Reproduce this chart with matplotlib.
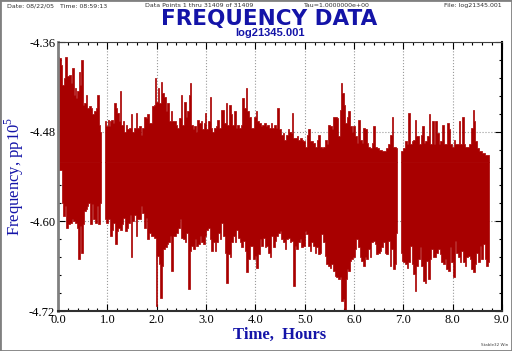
import numpy as np
import matplotlib
matplotlib.use("Agg")
import matplotlib.pyplot as plt
from matplotlib.patches import Rectangle

plt.rcParams['mathtext.fontset'] = 'custom'
plt.rcParams['mathtext.rm'] = 'Liberation Serif'

# ---- data (hours, pp10^5) ----
# upper edge of the trace; nan marks the two gaps in the record
top_t = [0.000, 0.034, 0.068, 0.101, 0.135, 0.156, 0.189, 0.237, 0.270, 0.304,
         0.325, 0.352, 0.372, 0.406, 0.426, 0.453, 0.487, 0.507, 0.541, 0.575,
         0.609, 0.642, 0.676, 0.710, 0.744, 0.778, 0.811, 0.832, 0.852, 0.865,
         0.910,
         0.960, 1.001, 1.028, 1.048, 1.068, 1.095, 1.116, 1.149, 1.183, 1.217,
         1.237, 1.271, 1.298, 1.325, 1.352, 1.386, 1.420, 1.454, 1.488, 1.521,
         1.555, 1.589, 1.623, 1.657, 1.690, 1.724, 1.758, 1.792, 1.826, 1.859,
         1.893, 1.927, 1.961, 1.981, 2.008, 2.028, 2.062, 2.096, 2.130, 2.164,
         2.197, 2.231, 2.265, 2.299, 2.333, 2.366, 2.400, 2.434, 2.468, 2.502,
         2.536, 2.569, 2.603, 2.637, 2.657, 2.691, 2.718, 2.738, 2.772, 2.806,
         2.840, 2.874, 2.907, 2.941, 2.975, 2.995, 3.022, 3.056, 3.090, 3.110,
         3.144, 3.178, 3.212, 3.245, 3.279, 3.313, 3.347, 3.381, 3.414, 3.448,
         3.482, 3.516, 3.550, 3.583, 3.617, 3.651, 3.685, 3.719, 3.753, 3.786,
         3.820, 3.854, 3.888, 3.922, 3.955, 3.989, 4.023, 4.057, 4.091, 4.124,
         4.158, 4.192, 4.226, 4.260, 4.293, 4.327, 4.361, 4.395, 4.429, 4.463,
         4.496, 4.537, 4.571, 4.604, 4.638, 4.672, 4.706, 4.740, 4.760, 4.787,
         4.821, 4.855, 4.888, 4.922, 4.956, 4.990, 5.024, 5.057, 5.091, 5.125,
         5.159, 5.193, 5.226, 5.260, 5.294, 5.328, 5.362, 5.396, 5.429, 5.463,
         5.497, 5.531, 5.565, 5.598, 5.632, 5.666, 5.700, 5.734, 5.754, 5.774,
         5.801, 5.835, 5.869, 5.903, 5.937, 5.970, 6.004, 6.038, 6.072, 6.105,
         6.139, 6.173, 6.207, 6.241, 6.274, 6.308, 6.342, 6.376, 6.410, 6.443,
         6.477, 6.531, 6.599, 6.680, 6.714, 6.748, 6.782, 6.815, 6.870,
         6.905,
         6.951, 7.018, 7.052, 7.086, 7.120, 7.154, 7.187, 7.221, 7.241, 7.275,
         7.309, 7.343, 7.376, 7.397, 7.431, 7.464, 7.498, 7.532, 7.566, 7.600,
         7.634, 7.667, 7.701, 7.735, 7.769, 7.803, 7.836, 7.870, 7.904, 7.938,
         7.972, 8.005, 8.039, 8.073, 8.107, 8.141, 8.174, 8.208, 8.242, 8.276,
         8.310, 8.357, 8.404, 8.425, 8.445, 8.479, 8.513, 8.560, 8.627, 8.695,
         8.729]
top_v = [-4.380, -4.382, -4.391, -4.417, -4.408, -4.380, -4.406, -4.404, -4.415, -4.395,
         -4.431, -4.422, -4.435, -4.426, -4.400, -4.417, -4.384, -4.444, -4.442, -4.431,
         -4.448, -4.446, -4.448, -4.457, -4.453, -4.448, -4.431, -4.471, -4.480, -4.480,
         np.nan,
         -4.466, -4.473, -4.464, -4.473, -4.466, -4.464, -4.468, -4.442, -4.448, -4.455,
         -4.466, -4.426, -4.471, -4.466, -4.480, -4.471, -4.477, -4.475, -4.457, -4.480,
         -4.475, -4.455, -4.475, -4.473, -4.484, -4.475, -4.460, -4.462, -4.457, -4.468,
         -4.468, -4.446, -4.444, -4.408, -4.440, -4.422, -4.442, -4.413, -4.428, -4.433,
         -4.453, -4.442, -4.466, -4.453, -4.466, -4.466, -4.471, -4.475, -4.462, -4.431,
         -4.471, -4.440, -4.460, -4.453, -4.431, -4.415, -4.471, -4.477, -4.473, -4.480,
         -4.464, -4.468, -4.466, -4.477, -4.468, -4.455, -4.477, -4.466, -4.433, -4.475,
         -4.480, -4.475, -4.473, -4.464, -4.475, -4.451, -4.451, -4.468, -4.442, -4.471,
         -4.444, -4.457, -4.471, -4.453, -4.475, -4.471, -4.475, -4.471, -4.435, -4.448,
         -4.422, -4.453, -4.460, -4.475, -4.475, -4.460, -4.453, -4.466, -4.468, -4.473,
         -4.471, -4.468, -4.473, -4.471, -4.475, -4.468, -4.475, -4.471, -4.475, -4.448,
         -4.477, -4.484, -4.482, -4.491, -4.484, -4.477, -4.480, -4.482, -4.455, -4.488,
         -4.488, -4.486, -4.491, -4.488, -4.491, -4.493, -4.500, -4.484, -4.477, -4.493,
         -4.493, -4.495, -4.500, -4.491, -4.484, -4.500, -4.502, -4.500, -4.491, -4.497,
         -4.471, -4.473, -4.477, -4.460, -4.460, -4.462, -4.486, -4.451, -4.415, -4.428,
         -4.444, -4.468, -4.460, -4.453, -4.473, -4.480, -4.473, -4.486, -4.495, -4.464,
         -4.491, -4.495, -4.475, -4.477, -4.495, -4.500, -4.502, -4.495, -4.473, -4.500,
         -4.502, -4.504, -4.506, -4.502, -4.497, -4.484, -4.460, -4.500, -4.502,
         np.nan,
         -4.506, -4.502, -4.493, -4.497, -4.455, -4.497, -4.493, -4.491, -4.464, -4.486,
         -4.486, -4.497, -4.484, -4.473, -4.495, -4.493, -4.486, -4.457, -4.497, -4.466,
         -4.497, -4.466, -4.482, -4.497, -4.493, -4.471, -4.497, -4.497, -4.468, -4.477,
         -4.497, -4.500, -4.491, -4.497, -4.497, -4.466, -4.497, -4.460, -4.497, -4.500,
         -4.500, -4.497, -4.475, -4.451, -4.466, -4.493, -4.502, -4.506, -4.508, -4.511,
         -4.511]

# lower edge of the trace
bot_t = [0.000, 0.080, 0.095, 0.122, 0.149, 0.189, 0.223, 0.257, 0.291, 0.325,
         0.358, 0.392, 0.426, 0.453, 0.487, 0.514, 0.541, 0.575, 0.595, 0.629,
         0.663, 0.696, 0.730, 0.764, 0.798, 0.832, 0.865,
         0.910,
         0.953, 0.987, 1.028, 1.068, 1.102, 1.136, 1.170, 1.204, 1.237, 1.271,
         1.305, 1.339, 1.373, 1.406, 1.440, 1.474, 1.494, 1.521, 1.555, 1.589,
         1.623, 1.657, 1.690, 1.724, 1.758, 1.792, 1.826, 1.859, 1.893, 1.927,
         1.961, 1.995, 2.028, 2.062, 2.089, 2.116, 2.150, 2.184, 2.218, 2.252,
         2.285, 2.312, 2.346, 2.380, 2.414, 2.448, 2.481, 2.515, 2.549, 2.583,
         2.617, 2.650, 2.684, 2.718, 2.752, 2.786, 2.819, 2.853, 2.887, 2.921,
         2.955, 2.989, 3.022, 3.056, 3.090, 3.124, 3.158, 3.191, 3.225, 3.259,
         3.293, 3.327, 3.360, 3.394, 3.428, 3.462, 3.496, 3.529, 3.563, 3.597,
         3.631, 3.665, 3.698, 3.732, 3.766, 3.800, 3.834, 3.868, 3.901, 3.935,
         3.969, 4.003, 4.037, 4.070, 4.104, 4.138, 4.172, 4.206, 4.239, 4.273,
         4.307, 4.341, 4.375, 4.408, 4.442, 4.476, 4.510, 4.544, 4.577, 4.611,
         4.645, 4.679, 4.713, 4.747, 4.780, 4.814, 4.848, 4.882, 4.916, 4.949,
         4.983, 5.017, 5.051, 5.085, 5.118, 5.152, 5.186, 5.220, 5.254, 5.287,
         5.321, 5.355, 5.389, 5.423, 5.456, 5.490, 5.524, 5.558, 5.592, 5.625,
         5.659, 5.693, 5.727, 5.761, 5.788, 5.815, 5.842, 5.869, 5.896, 5.930,
         5.963, 5.997, 6.031, 6.065, 6.099, 6.133, 6.166, 6.200, 6.234, 6.268,
         6.302, 6.335, 6.369, 6.403, 6.437, 6.471, 6.504, 6.538, 6.572, 6.606,
         6.640, 6.674, 6.707, 6.741, 6.775, 6.809, 6.842, 6.870,
         6.905,
         6.951, 6.984, 7.018, 7.052, 7.086, 7.120, 7.153, 7.187, 7.221, 7.248,
         7.282, 7.316, 7.350, 7.383, 7.417, 7.451, 7.485, 7.519, 7.553, 7.586,
         7.620, 7.654, 7.688, 7.721, 7.755, 7.789, 7.823, 7.857, 7.890, 7.924,
         7.958, 7.992, 8.026, 8.060, 8.093, 8.127, 8.161, 8.195, 8.228, 8.262,
         8.296, 8.330, 8.364, 8.397, 8.431, 8.465, 8.499, 8.533, 8.567, 8.600,
         8.634, 8.668, 8.702, 8.729]
bot_v = [-4.531, -4.531, -4.575, -4.593, -4.580, -4.609, -4.604, -4.602, -4.597, -4.600,
         -4.602, -4.609, -4.651, -4.606, -4.642, -4.604, -4.586, -4.584, -4.580, -4.575,
         -4.604, -4.577, -4.597, -4.602, -4.580, -4.604, -4.575,
         np.nan,
         -4.597, -4.602, -4.597, -4.620, -4.611, -4.602, -4.631, -4.613, -4.609, -4.611,
         -4.604, -4.595, -4.613, -4.609, -4.602, -4.591, -4.648, -4.600, -4.591, -4.620,
         -4.597, -4.597, -4.580, -4.589, -4.609, -4.595, -4.624, -4.615, -4.620, -4.620,
         -4.622, -4.713, -4.646, -4.657, -4.702, -4.660, -4.637, -4.635, -4.631, -4.628,
         -4.620, -4.666, -4.620, -4.620, -4.615, -4.609, -4.597, -4.622, -4.624, -4.628,
         -4.615, -4.691, -4.640, -4.633, -4.637, -4.624, -4.633, -4.631, -4.620, -4.628,
         -4.631, -4.620, -4.611, -4.609, -4.624, -4.640, -4.628, -4.640, -4.628, -4.615,
         -4.624, -4.602, -4.620, -4.642, -4.682, -4.644, -4.648, -4.628, -4.620, -4.628,
         -4.611, -4.622, -4.628, -4.635, -4.626, -4.640, -4.668, -4.651, -4.633, -4.633,
         -4.651, -4.646, -4.662, -4.644, -4.624, -4.633, -4.622, -4.635, -4.633, -4.642,
         -4.648, -4.620, -4.635, -4.626, -4.620, -4.615, -4.613, -4.624, -4.628, -4.637,
         -4.624, -4.622, -4.628, -4.626, -4.686, -4.633, -4.637, -4.628, -4.624, -4.635,
         -4.633, -4.613, -4.617, -4.633, -4.640, -4.628, -4.633, -4.642, -4.635, -4.644,
         -4.642, -4.617, -4.628, -4.646, -4.657, -4.660, -4.662, -4.657, -4.666, -4.673,
         -4.675, -4.677, -4.675, -4.706, -4.704, -4.720, -4.677, -4.664, -4.666, -4.653,
         -4.651, -4.648, -4.637, -4.624, -4.635, -4.648, -4.653, -4.660, -4.648, -4.651,
         -4.637, -4.648, -4.628, -4.626, -4.631, -4.644, -4.642, -4.640, -4.635, -4.628,
         -4.642, -4.644, -4.626, -4.660, -4.637, -4.664, -4.657, -4.615,
         np.nan,
         -4.642, -4.653, -4.655, -4.657, -4.662, -4.655, -4.633, -4.657, -4.671, -4.693,
         -4.660, -4.651, -4.635, -4.660, -4.680, -4.682, -4.653, -4.677, -4.651, -4.637,
         -4.648, -4.648, -4.642, -4.637, -4.644, -4.655, -4.657, -4.651, -4.664, -4.666,
         -4.635, -4.655, -4.675, -4.626, -4.642, -4.648, -4.655, -4.640, -4.655, -4.660,
         -4.648, -4.646, -4.651, -4.664, -4.668, -4.657, -4.642, -4.655, -4.633, -4.651,
         -4.631, -4.651, -4.660, -4.655]

red = '#a80000'
blue = '#1414a8'
core = -4.52  # level that always lies inside the band


def pieces(t, v):
    # break a nan-separated edge into its continuous pieces
    t = np.asarray(t)
    v = np.asarray(v)
    cut = np.where(np.isnan(v))[0]
    out = []
    for a, b in zip(np.split(t, cut), np.split(v, cut)):
        ok = ~np.isnan(b)
        out.append((a[ok], b[ok]))
    return out


fig = plt.figure(figsize=(5.12, 3.51), dpi=100)
ax = fig.add_axes([58 / 512, 40 / 351, 444 / 512, 269 / 351])

# column look of the dense trace: step fills from the edges to the core
for tt, tv in pieces(top_t, top_v):
    ax.fill_between(tt, tv, core, step='mid', color=red, lw=0.5, ec=red)
for bt, bv in pieces(bot_t, bot_v):
    ax.fill_between(bt, bv, core, step='mid', color=red, lw=0.5, ec=red)

ax.set_xlim(0, 9)
ax.set_ylim(-4.72, -4.36)
ax.set_xticks(np.arange(0, 9.1, 1.0))
ax.set_xticks(np.arange(0, 9.01, 0.2), minor=True)
ax.set_yticks([-4.72, -4.60, -4.48, -4.36])
ax.set_yticks(np.arange(-4.72, -4.359, 0.024), minor=True)
ax.set_xticklabels([f'{v:.1f}' for v in np.arange(0, 9.1, 1.0)])
ax.set_yticklabels(['-4.72', '-4.60', '-4.48', '-4.36'])
ax.tick_params(which='both', direction='in', top=True, right=True,
               labelsize=9, pad=2)
ax.tick_params(which='major', length=5, width=0.8)
ax.tick_params(which='minor', length=2.5, width=0.8)
for lab in ax.get_xticklabels() + ax.get_yticklabels():
    lab.set_family('Liberation Serif')
ax.grid(True, which='major', color='#9a9a9a', ls=':', lw=0.8)
ax.set_axisbelow(True)

ax.spines['left'].set_color('#808080')
ax.spines['left'].set_linewidth(2)
ax.spines['bottom'].set_color('#303030')
ax.spines['bottom'].set_linewidth(1.5)
ax.spines['right'].set_color('black')
ax.spines['right'].set_linewidth(1.5)
ax.spines['top'].set_color('#404040')

ax.set_xlabel('Time,  Hours', family='Liberation Serif', fontweight='bold',
              fontsize=12, color=blue, labelpad=1)
ax.set_ylabel(r'Frequency, pp10$^{5}$', family='Liberation Serif',
              fontsize=12, color=blue, labelpad=2)

fig.text(269 / 512, 1 - 19 / 351, 'FREQUENCY DATA', ha='center', va='center',
         family='DejaVu Sans', fontweight='bold', fontsize=15.5, color=blue)
fig.text(270 / 512, 1 - 33 / 351, 'log21345.001', ha='center', va='center',
         family='Liberation Sans', fontweight='bold', fontsize=8, color=blue)

hdr = dict(fontsize=4.5, color='#303030', va='center', family='DejaVu Sans')
fig.text(7 / 512, 1 - 5.5 / 351, 'Date: 08/22/05   Time: 08:59:13', ha='left', **hdr)
fig.text(199 / 512, 1 - 5.5 / 351, 'Data Points 1 thru 31409 of 31409', ha='center', **hdr)
fig.text(337 / 512, 1 - 5.5 / 351, 'Tau=1.0000000e+00', ha='center', **hdr)
fig.text(502 / 512, 1 - 5.5 / 351, 'File: log21345.001', ha='right', **hdr)
fig.text(508 / 512, 1 - 345 / 351, 'Stable32 Win', ha='right', va='center',
         fontsize=3, color='#404040')

fig.patches.append(Rectangle((0, 0), 1, 1, transform=fig.transFigure,
                             fill=False, edgecolor='#808080', lw=2))

fig.savefig('out.png', dpi=100)
